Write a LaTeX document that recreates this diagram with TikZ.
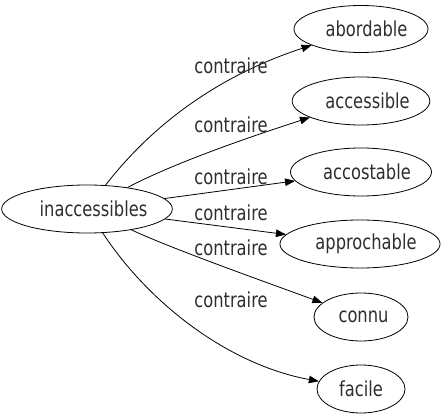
\documentclass[tikz,border=0pt]{standalone}
\usepackage{fontspec}
\setmainfont{DejaVu Sans}
\usetikzlibrary{shapes.geometric,arrows.meta}
\newcommand{\tallt}[2][0pt]{\hspace*{#1}\scalebox{1}[1.27]{#2}}
\begin{document}
\begin{tikzpicture}[x=1pt,y=-1pt,
  word/.style={draw,ellipse,inner sep=0pt,line width=0.8pt,font=\fontsize{16.3}{18}\selectfont,text=black!82},
  rel/.style={line width=0.8pt,-{Triangle[length=10pt,width=7.5pt]}},
  lab/.style={font=\fontsize{16.3}{18}\selectfont,text=black!82,inner sep=0pt}]
\useasboundingbox (0,0) rectangle (444,419);
\node[word,minimum width=164pt,minimum height=48pt] (a) at (87,209) {\tallt[13pt]{inaccessibles}};
\node[word,minimum width=134pt,minimum height=47pt] (ab) at (361,29) {\tallt[11pt]{abordable}};
\node[word,minimum width=134pt,minimum height=48pt] (ac) at (361,101) {\tallt[13pt]{accessible}};
\node[word,minimum width=136pt,minimum height=48pt] (co) at (361,172) {\tallt[12pt]{accostable}};
\node[word,minimum width=156pt,minimum height=48pt] (ap) at (360,244) {\tallt[12pt]{approchable}};
\node[word,minimum width=94pt,minimum height=48pt] (cn) at (361,317) {\tallt[5pt]{connu}};
\node[word,minimum width=88pt,minimum height=48pt] (fa) at (361,389) {\tallt{facile}};
\draw[rel] (a) .. controls (160,115) and (230,72) .. (ab);
\draw[rel] (a) .. controls (170,165) and (240,140) .. (ac);
\draw[rel] (a) -- (co);
\draw[rel] (a) -- (ap);
\draw[rel] (a) .. controls (170,248) and (260,280) .. (cn);
\draw[rel] (a) .. controls (150,305) and (230,365) .. (fa);
\node[lab] (l1) at (231,66) {\tallt{contraire}};
\node[lab] (l2) at (231,125) {\tallt{contraire}};
\node[lab] (l3) at (231,177) {\tallt{contraire}};
\node[lab] (l4) at (231,213) {\tallt{contraire}};
\node[lab] (l5) at (231,248) {\tallt{contraire}};
\node[lab] (l6) at (231,300) {\tallt{contraire}};
\end{tikzpicture}
\end{document}
